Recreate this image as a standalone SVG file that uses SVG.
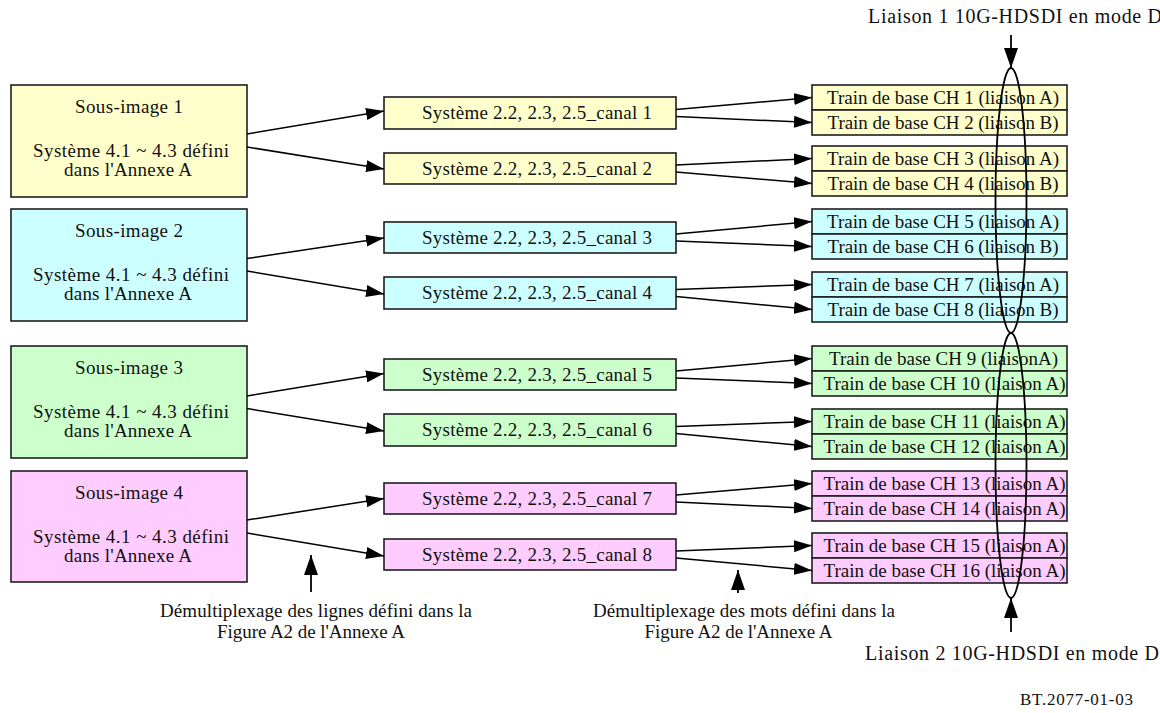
<svg xmlns="http://www.w3.org/2000/svg" width="1160" height="713" viewBox="0 0 1160 713">
<defs>
<style>
text{font-family:"Liberation Serif","Times New Roman",serif;font-size:19px;fill:#111;}
.m{text-anchor:middle;}
.box{stroke:#1e1e1e;stroke-width:1.6;}
.y{fill:#FFFFCC;} .c{fill:#CCFFFF;} .g{fill:#CCFFCC;} .p{fill:#FFCCFF;}
.e{stroke:#000;stroke-width:1.5;fill:none;marker-end:url(#ah);}
.v{stroke:#000;stroke-width:1.8;fill:none;marker-end:url(#av);}
.ell{fill:none;stroke:#000;stroke-width:1.8;}
</style>
<marker id="ah" markerUnits="userSpaceOnUse" markerWidth="18" markerHeight="12" viewBox="0 0 18 12" refX="18" refY="6" orient="auto"><path d="M0,0 L18,6 L0,12 z" fill="#000"/></marker>
<marker id="av" markerUnits="userSpaceOnUse" markerWidth="20" markerHeight="14" viewBox="0 0 20 14" refX="20" refY="7" orient="auto"><path d="M0,0 L20,7 L0,14 z" fill="#000"/></marker>
</defs>
<rect width="1160" height="713" fill="#fff"/>

<g id="sous-image-1"><rect class="box y" x="11" y="85" width="236" height="112"/>
<text class="m" x="129" y="113" textLength="108">Sous-image 1</text>
<text class="m" x="131" y="157" textLength="196">Système 4.1 ~ 4.3 défini</text>
<text class="m" x="128" y="176" textLength="128">dans l'Annexe A</text></g>
<g id="sous-image-2"><rect class="box c" x="11" y="209" width="236" height="112"/>
<text class="m" x="129" y="237" textLength="108">Sous-image 2</text>
<text class="m" x="131" y="281" textLength="196">Système 4.1 ~ 4.3 défini</text>
<text class="m" x="128" y="300" textLength="128">dans l'Annexe A</text></g>
<g id="sous-image-3"><rect class="box g" x="11" y="346" width="236" height="112"/>
<text class="m" x="129" y="374" textLength="108">Sous-image 3</text>
<text class="m" x="131" y="418" textLength="196">Système 4.1 ~ 4.3 défini</text>
<text class="m" x="128" y="437" textLength="128">dans l'Annexe A</text></g>
<g id="sous-image-4"><rect class="box p" x="11" y="471" width="236" height="111"/>
<text class="m" x="129" y="499" textLength="108">Sous-image 4</text>
<text class="m" x="131" y="543" textLength="196">Système 4.1 ~ 4.3 défini</text>
<text class="m" x="128" y="562" textLength="128">dans l'Annexe A</text></g>

<g id="canal-1"><rect class="box y" x="384" y="97" width="292" height="32"/><text class="m" x="537" y="119" textLength="230">Système 2.2, 2.3, 2.5_canal 1</text></g>
<g id="canal-2"><rect class="box y" x="384" y="153" width="292" height="31"/><text class="m" x="537" y="174.5" textLength="230">Système 2.2, 2.3, 2.5_canal 2</text></g>
<g id="canal-3"><rect class="box c" x="384" y="222" width="292" height="31"/><text class="m" x="537" y="243.5" textLength="230">Système 2.2, 2.3, 2.5_canal 3</text></g>
<g id="canal-4"><rect class="box c" x="384" y="277" width="292" height="32"/><text class="m" x="537" y="299" textLength="230">Système 2.2, 2.3, 2.5_canal 4</text></g>
<g id="canal-5"><rect class="box g" x="384" y="359" width="292" height="31"/><text class="m" x="537" y="380.5" textLength="230">Système 2.2, 2.3, 2.5_canal 5</text></g>
<g id="canal-6"><rect class="box g" x="384" y="414" width="292" height="32"/><text class="m" x="537" y="436" textLength="230">Système 2.2, 2.3, 2.5_canal 6</text></g>
<g id="canal-7"><rect class="box p" x="384" y="483" width="292" height="31"/><text class="m" x="537" y="504.5" textLength="230">Système 2.2, 2.3, 2.5_canal 7</text></g>
<g id="canal-8"><rect class="box p" x="384" y="539" width="292" height="31"/><text class="m" x="537" y="560.5" textLength="230">Système 2.2, 2.3, 2.5_canal 8</text></g>

<g id="ch-1"><rect class="box y" x="812" y="85" width="255" height="25"/><text class="m" x="943" y="104" textLength="232">Train de base CH 1 (liaison A)</text></g>
<g id="ch-2"><rect class="box y" x="812" y="110" width="255" height="25"/><text class="m" x="943" y="129" textLength="231">Train de base CH 2 (liaison B)</text></g>
<g id="ch-3"><rect class="box y" x="812" y="146" width="255" height="25"/><text class="m" x="943" y="165" textLength="232">Train de base CH 3 (liaison A)</text></g>
<g id="ch-4"><rect class="box y" x="812" y="171" width="255" height="25"/><text class="m" x="943" y="190" textLength="231">Train de base CH 4 (liaison B)</text></g>
<g id="ch-5"><rect class="box c" x="812" y="209" width="255" height="25"/><text class="m" x="943" y="228" textLength="232">Train de base CH 5 (liaison A)</text></g>
<g id="ch-6"><rect class="box c" x="812" y="234" width="255" height="25"/><text class="m" x="943" y="253" textLength="231">Train de base CH 6 (liaison B)</text></g>
<g id="ch-7"><rect class="box c" x="812" y="272" width="255" height="25"/><text class="m" x="943" y="291" textLength="232">Train de base CH 7 (liaison A)</text></g>
<g id="ch-8"><rect class="box c" x="812" y="297" width="255" height="25"/><text class="m" x="943" y="316" textLength="231">Train de base CH 8 (liaison B)</text></g>
<g id="ch-9"><rect class="box g" x="812" y="346" width="255" height="25"/><text class="m" x="943.5" y="365" textLength="229">Train de base CH 9 (liaisonA)</text></g>
<g id="ch-10"><rect class="box g" x="812" y="371" width="255" height="25"/><text class="m" x="944.5" y="390" textLength="242">Train de base CH 10 (liaison A)</text></g>
<g id="ch-11"><rect class="box g" x="812" y="409" width="255" height="25"/><text class="m" x="944.5" y="428" textLength="242">Train de base CH 11 (liaison A)</text></g>
<g id="ch-12"><rect class="box g" x="812" y="434" width="255" height="25"/><text class="m" x="944.5" y="453" textLength="242">Train de base CH 12 (liaison A)</text></g>
<g id="ch-13"><rect class="box p" x="812" y="471" width="255" height="25"/><text class="m" x="944.5" y="490" textLength="242">Train de base CH 13 (liaison A)</text></g>
<g id="ch-14"><rect class="box p" x="812" y="496" width="255" height="25"/><text class="m" x="944.5" y="515" textLength="242">Train de base CH 14 (liaison A)</text></g>
<g id="ch-15"><rect class="box p" x="812" y="533" width="255" height="25"/><text class="m" x="944.5" y="552" textLength="242">Train de base CH 15 (liaison A)</text></g>
<g id="ch-16"><rect class="box p" x="812" y="558" width="255" height="25"/><text class="m" x="944.5" y="577" textLength="242">Train de base CH 16 (liaison A)</text></g>

<g id="connectors">
<line class="e" x1="247" y1="134" x2="384" y2="111"/>
<line class="e" x1="247" y1="147" x2="384" y2="169"/>
<line class="e" x1="247" y1="258.5" x2="384" y2="238"/>
<line class="e" x1="247" y1="271" x2="384" y2="294"/>
<line class="e" x1="247" y1="396" x2="384" y2="373.5"/>
<line class="e" x1="247" y1="408.5" x2="384" y2="431"/>
<line class="e" x1="247" y1="520" x2="384" y2="498.5"/>
<line class="e" x1="247" y1="533" x2="384" y2="556"/>

<line class="e" x1="676" y1="109.5" x2="812" y2="97.5"/>
<line class="e" x1="676" y1="116.5" x2="812" y2="122.5"/>
<line class="e" x1="676" y1="165" x2="812" y2="158.5"/>
<line class="e" x1="676" y1="172" x2="812" y2="183.5"/>
<line class="e" x1="676" y1="234" x2="812" y2="221.5"/>
<line class="e" x1="676" y1="241" x2="812" y2="246.5"/>
<line class="e" x1="676" y1="289.5" x2="812" y2="284.5"/>
<line class="e" x1="676" y1="296.5" x2="812" y2="309.5"/>
<line class="e" x1="676" y1="371" x2="812" y2="358.5"/>
<line class="e" x1="676" y1="378" x2="812" y2="383.5"/>
<line class="e" x1="676" y1="426.5" x2="812" y2="421.5"/>
<line class="e" x1="676" y1="433.5" x2="812" y2="446.5"/>
<line class="e" x1="676" y1="495" x2="812" y2="483.5"/>
<line class="e" x1="676" y1="502" x2="812" y2="508.5"/>
<line class="e" x1="676" y1="551" x2="812" y2="545.5"/>
<line class="e" x1="676" y1="558" x2="812" y2="570.5"/>
</g>

<g id="liaisons">
<ellipse class="ell" cx="1011" cy="200.5" rx="15.5" ry="132.5"/>
<ellipse class="ell" cx="1011" cy="465.5" rx="15.5" ry="132.5"/>
<line class="v" x1="1011" y1="35" x2="1011" y2="68"/>
<line class="v" x1="1011" y1="632" x2="1011" y2="598"/>
<text x="868" y="23" font-size="20" style="font-size:20px" textLength="294">Liaison 1 10G-HDSDI en mode D</text>
<text x="865" y="660" style="font-size:20px" textLength="294">Liaison 2 10G-HDSDI en mode D</text>
</g>

<g id="annotations">
<line class="v" x1="311" y1="592" x2="311" y2="555"/>
<line class="v" x1="738" y1="593" x2="738" y2="570"/>
<text class="m" x="316" y="617" textLength="312">Démultiplexage des lignes défini dans la</text>
<text class="m" x="311" y="637.5" textLength="188">Figure A2 de l'Annexe A</text>
<text class="m" x="744" y="617" textLength="302">Démultiplexage des mots défini dans la</text>
<text class="m" x="738.5" y="638" textLength="188">Figure A2 de l'Annexe A</text>
<text x="1020" y="705" style="font-size:17px" textLength="113">BT.2077-01-03</text>
</g>
</svg>
